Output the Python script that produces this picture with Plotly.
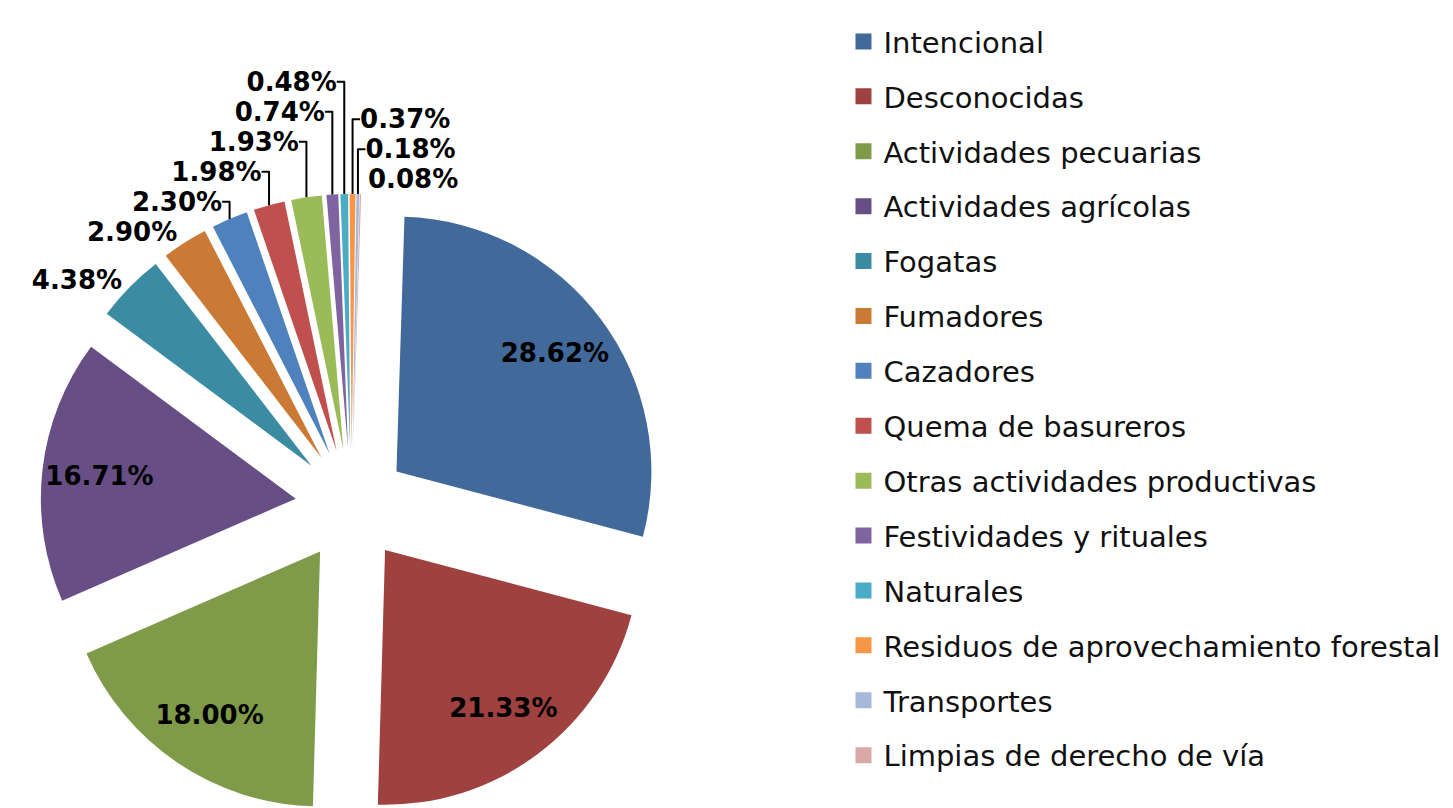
import plotly.graph_objects as go

categories = ["Intencional", "Desconocidas", "Actividades pecuarias", "Actividades agrícolas",
              "Fogatas", "Fumadores", "Cazadores", "Quema de basureros",
              "Otras actividades productivas", "Festividades y rituales", "Naturales",
              "Residuos de aprovechamiento forestal", "Transportes", "Limpias de derecho de vía"]
values = [28.62, 21.33, 18.00, 16.71, 4.38, 2.90, 2.30, 1.98, 1.93, 0.74, 0.48, 0.37, 0.18, 0.08]
colors = ["#416A9B", "#9E413F", "#7F9B4A", "#674F86", "#3B8CA2", "#CB7A36",
          "#4F81BD", "#C0504D", "#9BBB59", "#8064A2", "#4BACC6", "#F79646",
          "#A7B9D9", "#D9A8A7"]

big = [v > 10 for v in values]
pie_domain = dict(x=[0.022, 0.4508], y=[0.0, 0.7698])
pulls = [0.22] * len(values)
rot = 1.8

fig = go.Figure()
# slices + outside labels for the small slices
fig.add_trace(go.Pie(
    labels=categories, values=values, sort=False, direction="clockwise", rotation=rot,
    marker=dict(colors=colors, line=dict(width=0)),
    pull=pulls,
    texttemplate="%{value:.2f}%", textposition=["none" if b else "outside" for b in big],
    outsidetextfont=dict(family="DejaVu Sans", size=26, color="black", weight="bold"),
    domain=pie_domain, showlegend=False, hoverinfo="label+value",
))
# transparent ring carrying the inside labels of the large slices (placed further out)
fig.add_trace(go.Pie(
    labels=categories, values=values, sort=False, direction="clockwise", rotation=rot,
    marker=dict(colors=["rgba(0,0,0,0)"] * len(values), line=dict(width=0)),
    pull=pulls, hole=0.55,
    texttemplate="%{value:.2f}%", textposition=["inside" if b else "none" for b in big],
    insidetextorientation="horizontal",
    textfont=dict(family="DejaVu Sans", size=26, color="black", weight="bold"),
    domain=pie_domain, showlegend=False, hoverinfo="skip",
))

for i, (cat, col) in enumerate(zip(categories, colors)):
    fig.add_trace(go.Scatter(
        x=[None], y=[None], mode="markers", name=cat, legendgroup=f"g{i}",
        marker=dict(symbol="square", size=16, color=col), showlegend=True,
    ))

fig.update_layout(
    width=1453, height=808,
    margin=dict(l=0, r=0, t=0, b=0, autoexpand=False),
    paper_bgcolor="white", plot_bgcolor="white",
    xaxis=dict(visible=False), yaxis=dict(visible=False),
    legend=dict(x=0.575, y=0.99, xanchor="left", yanchor="top",
                font=dict(family="DejaVu Sans", size=29, color="#111111"),
                tracegroupgap=14.2, bgcolor="rgba(0,0,0,0)"),
)

fig.write_html("out.html")
